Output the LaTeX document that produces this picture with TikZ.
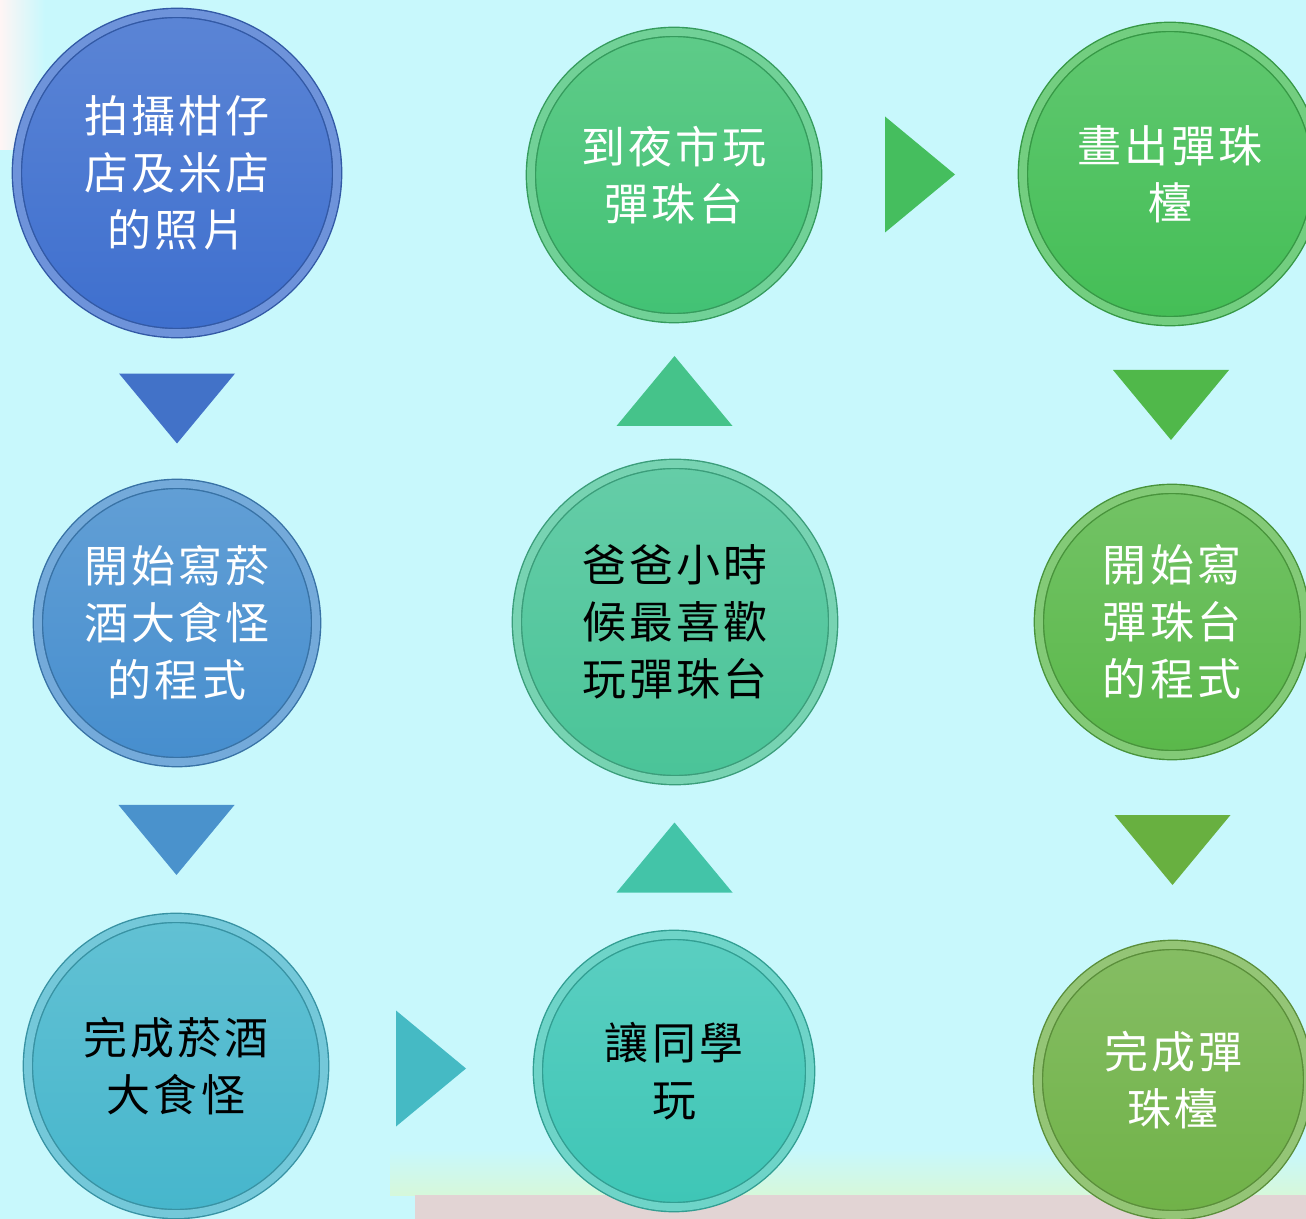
\documentclass[tikz,border=0pt]{standalone}
\usepackage{fontspec}
\usepackage{tikz}
\usetikzlibrary{calc}
\newfontfamily\cjk{Noto Sans CJK TC}[LetterSpace=7]
\definecolor{bgc}{RGB}{200,248,252}
\definecolor{bandc}{RGB}{214,248,218}
\definecolor{pinkc}{RGB}{226,212,212}
\definecolor{ballA}{RGB}{62,111,206}
\definecolor{ballB}{RGB}{70,142,206}
\definecolor{ballC}{RGB}{70,182,204}
\definecolor{ballD}{RGB}{66,194,116}
\definecolor{ballE}{RGB}{74,196,152}
\definecolor{ballF}{RGB}{62,198,182}
\definecolor{ballG}{RGB}{68,190,86}
\definecolor{ballH}{RGB}{90,184,74}
\definecolor{ballI}{RGB}{112,178,72}
\definecolor{triA}{RGB}{66,114,200}
\definecolor{triB}{RGB}{74,146,204}
\definecolor{triC}{RGB}{69,186,196}
\definecolor{triD}{RGB}{67,196,168}
\definecolor{triE}{RGB}{69,195,138}
\definecolor{triF}{RGB}{69,190,94}
\definecolor{triG}{RGB}{80,184,74}
\definecolor{triH}{RGB}{104,176,64}
\tikzstyle{ball} = [circle, inner sep=0pt, align=center, font={\fontsize{12.5}{16.2}\cjk}, top color=#1!85!white, bottom color=#1, draw=#1!80!black, line width=0.4pt, double=#1!75!white, double distance=2.2pt]
\newcommand{\pointer}[3]{\fill[#3, shift={(#1)}, rotate=#2] (-58,-35) -- (58,-35) -- (0,35) -- cycle;}

\begin{document}
\begin{tikzpicture}[x=0.01cm, y=-0.01cm]

% background
\fill[bgc] (0,0) rectangle (1306,1219);
\useasboundingbox (0,0) rectangle (1306,1219);
\fill[left color=white!96!red, right color=bgc] (0,0) rectangle (45,150);
\fill[top color=bgc, bottom color=bandc] (390,1150) rectangle (1306,1195);
\fill[pinkc] (415,1195) rectangle (1306,1219);

% first column
\node (c1) [ball=ballA, text=white, minimum size=3.20cm] at (177,173) {拍攝柑仔\\店及米店\\的照片};
\node (c2) [ball=ballB, text=white, minimum size=2.78cm] at (177,623) {開始寫菸\\酒大食怪\\的程式};
\node (c3) [ball=ballC, text=black, minimum size=2.96cm] at (176,1066) {完成菸酒\\大食怪};

% second column
\node (c6) [ball=ballF, text=black, minimum size=2.72cm] at (674,1071) {讓同學\\玩};
\node (c5) [ball=ballE, text=black, minimum size=3.16cm] at (675,622) {爸爸小時\\候最喜歡\\玩彈珠台};
\node (c4) [ball=ballD, text=white, minimum size=2.86cm] at (674,175) {到夜市玩\\彈珠台};

% third column
\node (c7) [ball=ballG, text=white, minimum size=2.94cm] at (1170,174) {畫出彈珠\\檯};
\node (c8) [ball=ballH, text=white, minimum size=2.66cm] at (1172,622) {開始寫\\彈珠台\\的程式};
\node (c9) [ball=ballI, text=white, minimum size=2.70cm] at (1173,1080) {完成彈\\珠檯};

% pointers
\coordinate (p1) at ($(c1.south)!0.5!(c2.north)$);
\coordinate (p2) at ($(c2.south)!0.5!(c3.north)$);
\coordinate (p3) at ($(c3.east)!0.5!(c6.west)$);
\coordinate (p4) at ($(c6.north)!0.5!(c5.south)$);
\coordinate (p5) at ($(c5.north)!0.5!(c4.south)$);
\coordinate (p6) at ($(c4.east)!0.5!(c7.west)$);
\coordinate (p7) at ($(c7.south)!0.5!(c8.north)$);
\coordinate (p8) at ($(c8.south)!0.5!(c9.north)$);

\pointer{p1}{0}{triA}
\pointer{p2}{0}{triB}
\pointer{p3}{90}{triC}
\pointer{p4}{180}{triD}
\pointer{p5}{180}{triE}
\pointer{p6}{90}{triF}
\pointer{p7}{0}{triG}
\pointer{p8}{0}{triH}

\end{tikzpicture}
\end{document}
